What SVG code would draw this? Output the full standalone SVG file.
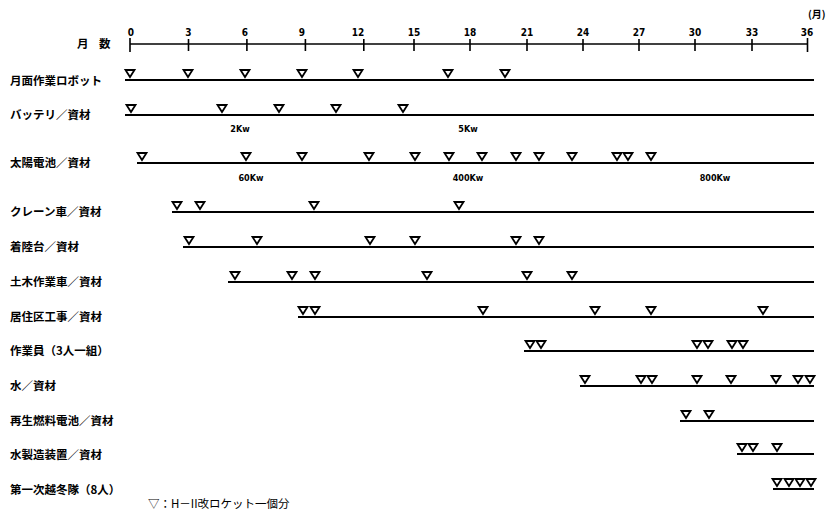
<svg xmlns="http://www.w3.org/2000/svg" xmlns:xlink="http://www.w3.org/1999/xlink" width="830" height="511" viewBox="0 0 830 511">
<defs>
<style>
.lbl{font-family:"Noto Sans CJK JP","Noto Sans CJK SC",sans-serif;font-size:11.5px;font-weight:700;fill:#000}
.num{font-family:"DejaVu Sans Condensed","Liberation Sans",sans-serif;font-size:10px;font-weight:700;fill:#000;text-anchor:middle}
.kw{font-family:"DejaVu Sans Condensed","Liberation Sans",sans-serif;font-size:9px;font-weight:700;fill:#000;text-anchor:middle}
.row{stroke:#000;stroke-width:2;fill:none}
.axis{stroke:#000;stroke-width:1.6;fill:none}
.tri{fill:#fff;stroke:#000;stroke-width:1.8;stroke-linejoin:miter}
</style>
<path id="t" class="tri" d="M-4.5,-10 L4.5,-10 L0,-3 Z"/>
</defs>
<rect width="830" height="511" fill="#fff"/>

<g id="axis">
<text class="lbl" x="77" y="48">月</text>
<text class="lbl" x="99" y="48">数</text>
<text class="lbl" x="808" y="18" style="font-size:10px">(月)</text>
<line class="axis" x1="130" y1="44" x2="807.5" y2="44"/>
<path class="axis" d="M130,38V52M188.5,39V51M246.9,39V51M305.4,39V51M363.8,39V51M414,39V51M470,39V51M527,39V51M583,39V51M639,39V51M695,39V51M752,39V51M807.5,38V52"/>
<text class="num" x="131" y="36">0</text>
<text class="num" x="188.5" y="36">3</text>
<text class="num" x="245" y="36">6</text>
<text class="num" x="302" y="36">9</text>
<text class="num" x="358" y="36">12</text>
<text class="num" x="414" y="36">15</text>
<text class="num" x="470" y="36">18</text>
<text class="num" x="527" y="36">21</text>
<text class="num" x="583" y="36">24</text>
<text class="num" x="639" y="36">27</text>
<text class="num" x="695" y="36">30</text>
<text class="num" x="752" y="36">33</text>
<text class="num" x="807" y="36">36</text>
</g>

<g id="connectors">
<line class="row" x1="125" y1="80" x2="814" y2="80"/>
<line class="row" x1="125" y1="115" x2="814" y2="115"/>
<line class="row" x1="137" y1="163" x2="814" y2="163"/>
<line class="row" x1="172" y1="212" x2="814" y2="212"/>
<line class="row" x1="183" y1="247" x2="814" y2="247"/>
<line class="row" x1="228" y1="282" x2="814" y2="282"/>
<line class="row" x1="298" y1="317" x2="814" y2="317"/>
<line class="row" x1="524" y1="351" x2="814" y2="351"/>
<line class="row" x1="580" y1="386" x2="814" y2="386"/>
<line class="row" x1="680" y1="421" x2="814" y2="421"/>
<line class="row" x1="737" y1="454" x2="814" y2="454"/>
<line class="row" x1="773" y1="489" x2="814" y2="489"/>
</g>

<g id="r1">
<text class="lbl" x="10" y="85">月面作業ロボット</text>
<use href="#t" x="130" y="80"/><use href="#t" x="188" y="80"/><use href="#t" x="245" y="80"/><use href="#t" x="302" y="80"/><use href="#t" x="358" y="80"/><use href="#t" x="448" y="80"/><use href="#t" x="505" y="80"/>
</g>
<g id="r2">
<text class="lbl" x="10" y="119">バッテリ／資材</text>
<use href="#t" x="131" y="115"/><use href="#t" x="222" y="115"/><use href="#t" x="279" y="115"/><use href="#t" x="336" y="115"/><use href="#t" x="403" y="115"/>
<text class="kw" x="240" y="132">2Kw</text>
<text class="kw" x="468" y="132">5Kw</text>
</g>
<g id="r3">
<text class="lbl" x="10" y="167">太陽電池／資材</text>
<use href="#t" x="142" y="163"/><use href="#t" x="246" y="163"/><use href="#t" x="302" y="163"/><use href="#t" x="369" y="163"/><use href="#t" x="415" y="163"/><use href="#t" x="449" y="163"/><use href="#t" x="482" y="163"/><use href="#t" x="516" y="163"/><use href="#t" x="539" y="163"/><use href="#t" x="572" y="163"/><use href="#t" x="617" y="163"/><use href="#t" x="628" y="163"/><use href="#t" x="651" y="163"/>
<text class="kw" x="251" y="181">60Kw</text>
<text class="kw" x="468" y="181">400Kw</text>
<text class="kw" x="715" y="181">800Kw</text>
</g>
<g id="r4">
<text class="lbl" x="10" y="216">クレーン車／資材</text>
<use href="#t" x="177" y="212"/><use href="#t" x="200" y="212"/><use href="#t" x="314" y="212"/><use href="#t" x="459" y="212"/>
</g>
<g id="r5">
<text class="lbl" x="10" y="251">着陸台／資材</text>
<use href="#t" x="189" y="247"/><use href="#t" x="257" y="247"/><use href="#t" x="370" y="247"/><use href="#t" x="415" y="247"/><use href="#t" x="516" y="247"/><use href="#t" x="539" y="247"/>
</g>
<g id="r6">
<text class="lbl" x="10" y="286">土木作業車／資材</text>
<use href="#t" x="235" y="282"/><use href="#t" x="292" y="282"/><use href="#t" x="315" y="282"/><use href="#t" x="427" y="282"/><use href="#t" x="527" y="282"/><use href="#t" x="572" y="282"/>
</g>
<g id="r7">
<text class="lbl" x="10" y="321">居住区工事／資材</text>
<use href="#t" x="303" y="317"/><use href="#t" x="315" y="317"/><use href="#t" x="483" y="317"/><use href="#t" x="595" y="317"/><use href="#t" x="651" y="317"/><use href="#t" x="763" y="317"/>
</g>
<g id="r8">
<text class="lbl" x="10" y="355">作業員（3人一組）</text>
<use href="#t" x="530" y="351"/><use href="#t" x="541" y="351"/><use href="#t" x="697" y="351"/><use href="#t" x="708" y="351"/><use href="#t" x="732" y="351"/><use href="#t" x="743" y="351"/>
</g>
<g id="r9">
<text class="lbl" x="10" y="390">水／資材</text>
<use href="#t" x="585" y="386"/><use href="#t" x="641" y="386"/><use href="#t" x="652" y="386"/><use href="#t" x="697" y="386"/><use href="#t" x="731" y="386"/><use href="#t" x="776" y="386"/><use href="#t" x="798" y="386"/><use href="#t" x="810" y="386"/>
</g>
<g id="r10">
<text class="lbl" x="10" y="425">再生燃料電池／資材</text>
<use href="#t" x="686" y="421"/><use href="#t" x="709" y="421"/>
</g>
<g id="r11">
<text class="lbl" x="10" y="459">水製造装置／資材</text>
<use href="#t" x="742" y="454"/><use href="#t" x="753" y="454"/><use href="#t" x="777" y="454"/>
</g>
<g id="r12">
<text class="lbl" x="10" y="494">第一次越冬隊（8人）</text>
<use href="#t" x="777" y="489"/><use href="#t" x="789" y="489"/><use href="#t" x="800" y="489"/><use href="#t" x="811" y="489"/>
</g>
<g id="legend">
<text class="lbl" x="148" y="508" style="font-weight:400">▽：H－II改ロケット一個分</text>
</g>
</svg>
